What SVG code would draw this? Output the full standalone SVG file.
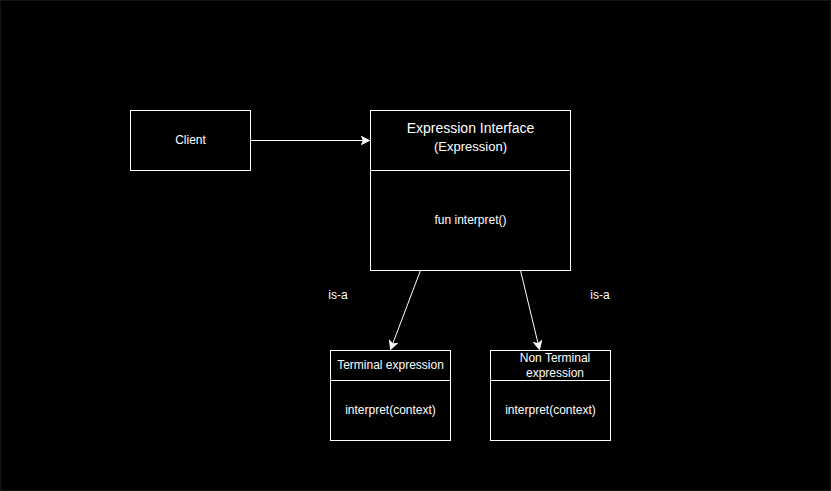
<svg xmlns="http://www.w3.org/2000/svg" width="831" height="491" viewBox="0 0 831 491">
<defs>
<style>
.box{fill:#000;stroke:#fff;stroke-width:1}
.ln{stroke:#fff;stroke-width:1;fill:none}
text{fill:#fff;font-family:"Liberation Sans",Arial,sans-serif;font-size:12px;text-anchor:middle;dominant-baseline:central}
</style>
<marker id="arr" markerWidth="10" markerHeight="10" refX="9" refY="5" orient="auto" markerUnits="userSpaceOnUse">
<path d="M1,1 L9,5 L1,9 L3,5 Z" fill="#fff" stroke="#fff" stroke-width="1"/>
</marker>
</defs>
<rect x="0" y="0" width="831" height="491" fill="#000"/>
<rect x="0.5" y="0.5" width="830" height="490" fill="none" stroke="#151515" stroke-width="1"/>
<g id="connectors">
<line class="ln" x1="250.5" y1="140.5" x2="369.5" y2="140.5" marker-end="url(#arr)"/>
<line class="ln" x1="420.5" y1="270.5" x2="390.5" y2="349.5" marker-end="url(#arr)"/>
<line class="ln" x1="520.5" y1="270.5" x2="539.5" y2="349.5" marker-end="url(#arr)"/>
<text x="338" y="295">is-a</text>
<text x="600" y="295">is-a</text>
</g>
<g id="client">
<rect class="box" x="130.5" y="110.5" width="120" height="60"/>
<text x="190.5" y="140">Client</text>
</g>
<g id="expression">
<rect class="box" x="370.5" y="110.5" width="200" height="160"/>
<line class="ln" x1="370.5" y1="170.5" x2="570.5" y2="170.5"/>
<text x="470.5" y="128" style="font-size:14px">Expression Interface</text>
<text x="470.5" y="146" style="font-size:13px">(Expression)</text>
<text x="470.5" y="220">fun interpret()</text>
</g>
<g id="terminal">
<rect class="box" x="330.5" y="350.5" width="120" height="90"/>
<line class="ln" x1="330.5" y1="380.5" x2="450.5" y2="380.5"/>
<text x="390.5" y="365">Terminal expression</text>
<text x="390.5" y="410">interpret(context)</text>
</g>
<g id="nonterminal">
<rect class="box" x="490.5" y="350.5" width="120" height="90"/>
<line class="ln" x1="490.5" y1="380.5" x2="610.5" y2="380.5"/>
<text x="555" y="358">Non Terminal</text>
<text x="555" y="373">expression</text>
<text x="550.5" y="410">interpret(context)</text>
</g>
</svg>
